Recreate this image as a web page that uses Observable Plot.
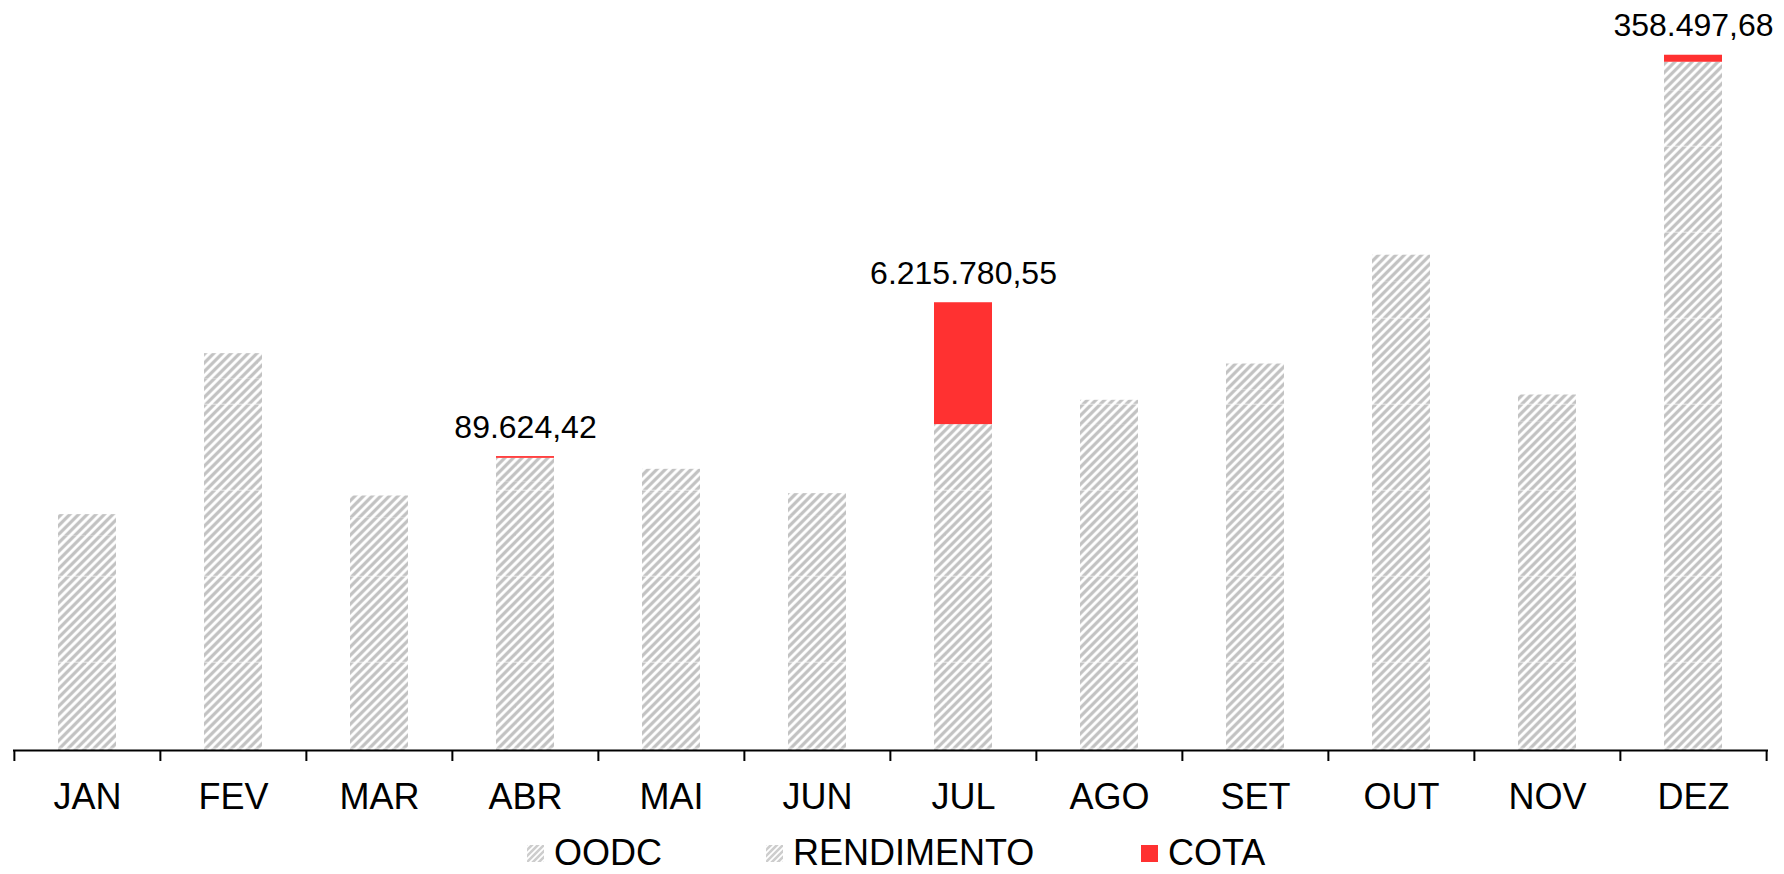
<!DOCTYPE html>
<html><head><meta charset="utf-8">
<script src="https://cdn.jsdelivr.net/npm/d3@7"></script>
<script src="https://cdn.jsdelivr.net/npm/@observablehq/plot@0.6"></script>
<style>
html,body{margin:0;padding:0;background:#fff;overflow:hidden;}
#wrap{position:relative;width:1784px;height:874px;font-family:"Liberation Sans",Arial,sans-serif;}
.lg{position:absolute;top:832px;font-size:36px;line-height:41px;color:#000;white-space:nowrap;}
.sw{position:absolute;top:845px;width:17px;height:17px;}
</style></head><body><div id="wrap"></div>
<script>
const months = ["JAN","FEV","MAR","ABR","MAI","JUN","JUL","AGO","SET","OUT","NOV","DEZ"];
const oodc = [10930000,18950000,11850000,13680000,13150000,11980000,15400000,16620000,18390000,23910000,16740000,33640000];
const rendimento = [1100000,1290000,1130000,1220000,1190000,1120000,1220000,1240000,1320000,1350000,1390000,1460000];
const cota = [0,0,0,89624.42,0,0,6215780.55,0,0,0,0,358497.68];
const seriesNames = ["OODC","RENDIMENTO","COTA"];
const seriesColors = ["url(#hatch)","url(#hatch)","#ff3131"];

const rows = [];
months.forEach((m,i)=>{
  rows.push({month:m, series:"OODC", value:oodc[i]});
  rows.push({month:m, series:"RENDIMENTO", value:rendimento[i]});
  rows.push({month:m, series:"COTA", value:cota[i]});
});
const labelRows = months.map((m,i)=>({month:m, total:oodc[i]+rendimento[i]+cota[i], cota:cota[i]})).filter(d=>d.cota>0);
const fmt = d3.formatLocale({decimal:",",thousands:".",grouping:[3],currency:["R$",""]}).format(",.2f");

const W=1784, H=830, ML=13, MR=16;
const step=(W-ML-MR)/months.length;
const plot = Plot.plot({
  width:W, height:H, marginLeft:ML, marginRight:MR, marginTop:30, marginBottom:80,
  style:{fontFamily:"'Liberation Sans', Arial, sans-serif", fontSize:"36px", background:"#fff", color:"#000"},
  x:{domain:months, paddingInner:0.6, paddingOuter:0.3, label:null, tickSize:0, tickPadding:33},
  y:{domain:[0,36720000], axis:null},
  color:{domain:seriesNames, range:seriesColors},
  marks:[
    Plot.barY(rows,{x:"month", y:"value", fill:"series"}),
    Plot.ruleY([0],{stroke:"#000", strokeWidth:2}),
    Plot.ruleX(months,{x:d=>d, y1:0, y2:0, insetBottom:-11, dx:-step/2, stroke:"#000", strokeWidth:2}),
    Plot.ruleX([months[months.length-1]],{x:d=>d, y1:0, y2:0, insetBottom:-11, dx:step/2, stroke:"#000", strokeWidth:2}),
    Plot.text(labelRows,{x:"month", y:"total", text:d=>fmt(d.cota), dy:-19, lineAnchor:"bottom", fontSize:32, fill:"#000"})
  ]
});
const svgSel = d3.select(plot);
const defs = svgSel.insert("defs", ":first-child");
const T=86, P=8.6;
const pat = defs.append("pattern").attr("id","hatch").attr("patternUnits","userSpaceOnUse")
  .attr("x",0).attr("y",59.7).attr("width",T).attr("height",T);
pat.append("rect").attr("width",T).attr("height",T).attr("fill","#fff");
for(let k=0;k<=20;k++){
  const a=k*P-T;
  pat.append("line").attr("x1",a-2).attr("y1",T+2).attr("x2",a+T+2).attr("y2",-2)
    .attr("stroke","#c2c2c2").attr("stroke-width",3.2);
}
pat.append("rect").attr("y",0).attr("width",T).attr("height",1).attr("fill","#fff").attr("opacity",0.6);

const wrap=document.getElementById("wrap");
wrap.appendChild(plot);

function swatchHatch(){
  return `<svg width="17" height="17">
  <rect width="17" height="17" fill="#fff"/>
  ${[-18,-12,-6,0,6,12,18].map(a=>`<line x1="${a-1}" y1="18" x2="${a+18}" y2="-1" stroke="#cdcdcd" stroke-width="2.6"/>`).join("")}</svg>`;
}
const legendItems = [
  {name:seriesNames[0], sw:527, tx:554, hatch:true},
  {name:seriesNames[1], sw:766, tx:793, hatch:true},
  {name:seriesNames[2], sw:1141, tx:1168, hatch:false}
];
legendItems.forEach(it=>{
  const s=document.createElement("div"); s.className="sw"; s.style.left=it.sw+"px";
  if(it.hatch) s.innerHTML=swatchHatch(); else s.style.background=seriesColors[2];
  wrap.appendChild(s);
  const t=document.createElement("div"); t.className="lg"; t.style.left=it.tx+"px"; t.textContent=it.name;
  wrap.appendChild(t);
});
plot.style.position="absolute"; plot.style.left="0"; plot.style.top="0";
</script></body></html>
